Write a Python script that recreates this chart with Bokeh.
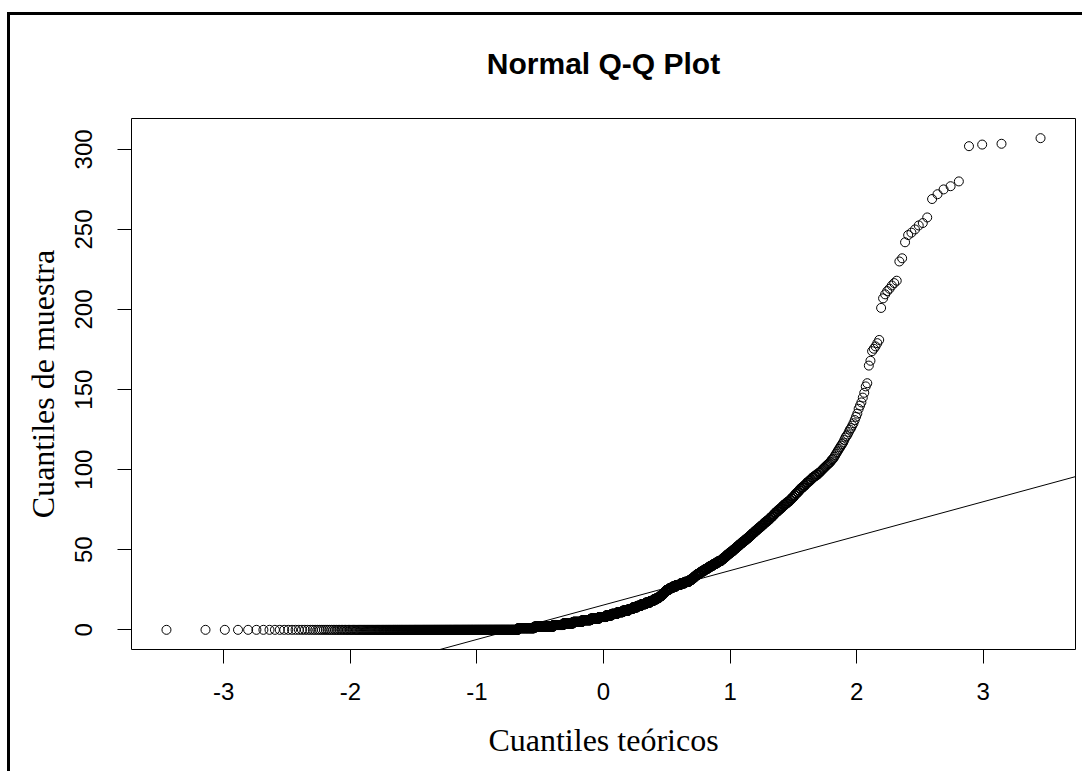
from statistics import NormalDist
import numpy as np
from bokeh.plotting import figure
from bokeh.layouts import column
from bokeh.models import Range1d, FixedTicker, Slope, ColumnDataSource
from bokeh.embed import file_html
from bokeh.resources import INLINE

# ---- data ----
# bulk of the (sorted) sample: distinct values and how often each occurs
bulk_values = [0, 1, 2, 3, 4, 5, 6, 7, 8, 9,
               10, 11, 12, 13, 14, 15, 16, 17, 18, 19,
               20, 21, 22, 23, 24, 25, 26, 27, 28, 29,
               30, 31, 32, 33, 34, 35, 36, 37, 38, 39,
               40, 41, 42, 43, 44, 45, 46, 47, 48, 49,
               50, 51, 52, 53, 54, 55, 56, 57, 58, 59,
               60, 61, 62, 63, 64, 65, 66, 67, 68, 69,
               70, 71, 72, 73, 74, 75, 76, 77, 78, 79,
               80, 81, 82, 83, 84, 85, 86, 87, 88, 89,
               90, 91, 92, 93, 94, 95, 96, 97, 98]
bulk_counts = [450, 77, 96, 54, 53, 51, 48, 47, 40, 32,
               32, 31, 32, 23, 24, 23, 24, 23, 18, 17,
               14, 11, 9, 8, 8, 14, 15, 18, 21, 20,
               20, 11, 9, 8, 9, 11, 10, 11, 11, 10,
               11, 11, 10, 11, 7, 7, 6, 7, 7, 7,
               6, 6, 6, 6, 6, 6, 6, 6, 5, 5,
               5, 5, 5, 5, 5, 5, 4, 5, 5, 4,
               4, 4, 3, 4, 4, 4, 4, 3, 4, 4,
               4, 3, 3, 3, 2, 3, 3, 2, 3, 3,
               3, 2, 3, 3, 2, 3, 3, 3, 1]
# the largest observations, read one by one
tail_values = [98, 98.5, 99, 99.5, 100, 100.5, 101, 101.5, 102, 102.5,
               103, 103.5, 104, 104.5, 105, 106, 106.5, 107, 108, 109,
               110, 111, 112, 113, 114, 115, 116, 117, 118.5, 120,
               121, 122, 123.5, 125, 126, 127.5, 129, 131, 133, 135,
               138, 140, 142, 145, 148, 152, 154, 165, 168, 174,
               175.5, 177, 179, 181, 201, 207, 209.5, 211.5, 213, 215,
               216.5, 218, 230, 232, 242, 246.5, 248, 250, 252.5, 254,
               257.5, 269, 272, 275, 277, 280, 302, 303, 303.5, 307]

x_ticks = [-3, -2, -1, 0, 1, 2, 3]
y_ticks = [0, 50, 100, 150, 200, 250, 300]
title_text = "Normal Q-Q Plot"
x_label = "Cuantiles teóricos"
y_label = "Cuantiles de muestra"

# ---- Q-Q computation (as qqnorm / qqline do) ----
sample = np.sort(np.concatenate([np.repeat(bulk_values, bulk_counts),
                                 np.array(tail_values, dtype=float)]))
n = len(sample)
nd = NormalDist()
theo = np.array([nd.inv_cdf((i + 0.5) / n) for i in range(n)])

q1, q3 = np.quantile(sample, [0.25, 0.75])
z1, z3 = nd.inv_cdf(0.25), nd.inv_cdf(0.75)
slope = (q3 - q1) / (z3 - z1)
intercept = q1 - slope * z1

xr = theo.max() - theo.min()
yr = sample.max() - sample.min()
x_range = Range1d(theo.min() - 0.04 * xr, theo.max() + 0.04 * xr)
y_range = Range1d(sample.min() - 0.04 * yr, sample.max() + 0.04 * yr)

W, H = 1082, 771
p = figure(width=W, height=H, x_range=x_range, y_range=y_range,
           output_backend="svg", toolbar_location=None,
           min_border_left=131, min_border_right=7,
           min_border_top=118, min_border_bottom=H - 649,
           background_fill_color="white", border_fill_color=None)

src = ColumnDataSource(dict(x=theo, y=sample))
p.scatter("x", "y", source=src, marker="circle", size=9,
          fill_color=None, line_color="black", line_width=1)

p.add_layout(Slope(gradient=slope, y_intercept=intercept,
                   line_color="black", line_width=1))

# title
p.title.text = title_text
p.title.align = "center"
p.title.text_font = "Liberation Sans"
p.title.text_font_style = "bold"
p.title.text_font_size = "30px"
p.title.text_color = "black"
p.title.standoff = 78

p.xgrid.visible = False
p.ygrid.visible = False
p.outline_line_color = "black"
p.outline_line_width = 1
p.outline_line_alpha = 1

for ax, ticks in ((p.xaxis, x_ticks), (p.yaxis, y_ticks)):
    ax.ticker = FixedTicker(ticks=ticks)
    ax.major_label_overrides = {t: str(t) for t in ticks}
    ax.axis_line_color = None
    ax.major_tick_in = 0
    ax.major_tick_out = 14
    ax.major_tick_line_color = "black"
    ax.major_tick_line_width = 1
    ax.minor_tick_line_color = None
    ax.major_label_text_font = "Liberation Sans"
    ax.major_label_text_font_size = "24px"
    ax.major_label_text_color = "black"
    ax.axis_label_text_font = "Liberation Serif"
    ax.axis_label_text_font_style = "normal"
    ax.axis_label_text_font_size = "32px"
    ax.axis_label_text_color = "black"

p.xaxis.axis_label = x_label
p.yaxis.axis_label = y_label
p.yaxis.major_label_orientation = "vertical"
p.xaxis.major_label_standoff = 19
p.yaxis.major_label_standoff = 25
p.xaxis.axis_label_standoff = 19
p.yaxis.axis_label_standoff = 12

# outer frame of the picture (thick black left and top edges), painted by the
# wrapping layout behind the figure's transparent border area
page = column(p, width=W, height=H,
              styles={"background": "linear-gradient(#000, #000) 7px 12px / 3px 800px no-repeat, "
                                    "linear-gradient(#000, #000) 7px 12px / 1075px 3px no-repeat, #fff"})

open("out.html", "w").write(file_html(page, INLINE))
